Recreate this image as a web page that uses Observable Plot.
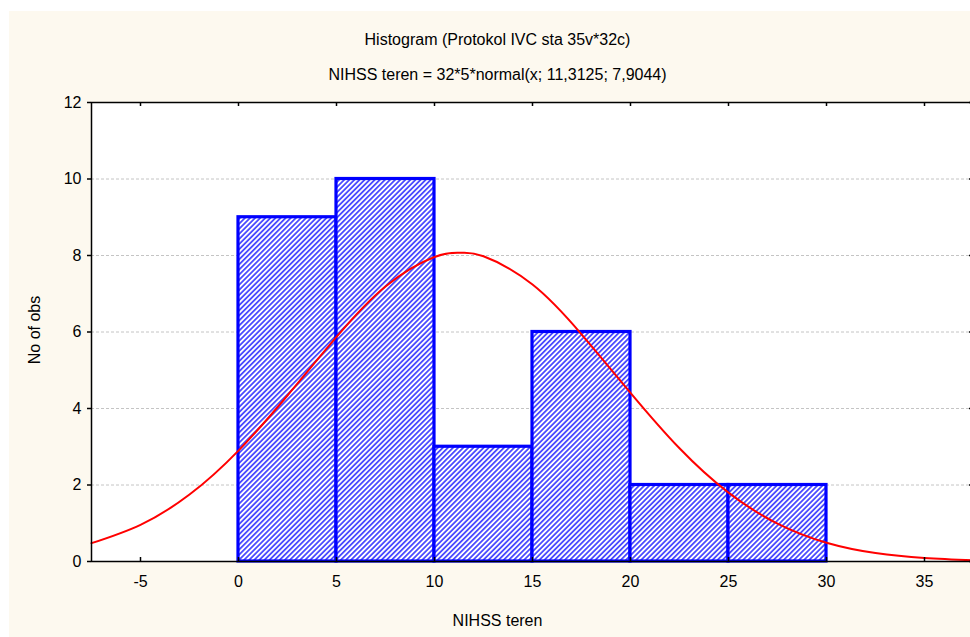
<!DOCTYPE html>
<html><head><meta charset="utf-8">
<script src="https://cdn.jsdelivr.net/npm/d3@7"></script>
<script src="https://cdn.jsdelivr.net/npm/@observablehq/plot@0.6"></script>
<style>
html,body{margin:0;padding:0;width:970px;height:637px;overflow:hidden;background:#fff;font-family:"Liberation Sans",Arial,sans-serif;}
#bg{position:absolute;left:9px;top:11px;right:0;bottom:0;background:#fdf9ef;}
.t{position:absolute;left:0;width:995px;text-align:center;font-size:16px;line-height:18px;color:#000;white-space:nowrap;}
#chart{position:absolute;left:0;top:90px;width:985px;}
#chart svg{max-width:none !important;}
#ylab{position:absolute;left:35px;top:330px;transform:translate(-50%,-50%) rotate(-90deg);font-size:16px;white-space:nowrap;}
</style></head>
<body>
<div id="bg"></div>
<div class="t" style="top:31px">Histogram (Protokol IVC sta 35v*32c)</div>
<div class="t" style="top:66px">NIHSS teren = 32*5*normal(x; 11,3125; 7,9044)</div>
<div class="t" style="top:612px">NIHSS teren</div>
<div id="ylab">No of obs</div>
<div id="chart"></div>
<script>
// Histogram bins (lower edge, upper edge, count)
const binLo = [0, 5, 10, 15, 20, 25];
const binHi = [5, 10, 15, 20, 25, 30];
const counts = [9, 10, 3, 6, 2, 2];

// Fitted normal curve
const curveX = [-7.5, -5, -2.5, 0, 2.5, 5, 7.5, 10, 11.3, 12.5, 15, 17.5, 20, 22.5, 25, 27.5, 30, 32.5, 35, 37.5];
const curveY = [0.48, 0.96, 1.75, 2.90, 4.34, 5.87, 7.19, 7.96, 8.07, 7.98, 7.24, 5.94, 4.41, 2.96, 1.80, 0.99, 0.49, 0.22, 0.09, 0.03];

const xTicks = [-5, 0, 5, 10, 15, 20, 25, 30, 35];
const yTicks = [0, 2, 4, 6, 8, 10, 12];
const gridY = [2, 4, 6, 8, 10];

const bins = binLo.map((lo, i) => ({lo, hi: binHi[i], n: counts[i]}));
const curve = curveX.map((x, i) => ({x, y: curveY[i]}));

const W = 985, H = 547, mL = 91, mR = 12, mT = 12, mB = 76;
const innerW = W - mL - mR, innerH = H - mT - mB;

const svg = Plot.plot({
  width: W, height: H,
  marginLeft: mL, marginRight: mR, marginTop: mT, marginBottom: mB,
  style: {background: "transparent", maxWidth: "none", fontFamily: "'Liberation Sans', Arial, sans-serif", fontSize: "16px", color: "#000"},
  x: {domain: [-7.5, 37.5]},
  y: {domain: [0, 12]},
  marks: [
    Plot.frame({fill: "white", stroke: null}),
    Plot.ruleY(gridY, {stroke: "#c4c4c4", strokeWidth: 1, strokeDasharray: "3,2"}),
    Plot.rectY(bins, {x1: "lo", x2: "hi", y: "n", fill: "url(#hatch)", stroke: "#0000ff", strokeWidth: 3.2}),
    Plot.line(curve, {x: "x", y: "y", stroke: "#ff0000", strokeWidth: 2, curve: "natural"}),
    Plot.frame({stroke: "#000", strokeWidth: 1.5}),
    Plot.tickX(xTicks, {x: d => d, insetTop: innerH - 4, stroke: "#000", strokeWidth: 1.5}),
    Plot.tickX(xTicks, {x: d => d, insetBottom: innerH - 4, stroke: "#000", strokeWidth: 1.5}),
    Plot.tickY(yTicks, {y: d => d, insetLeft: innerW - 4, stroke: "#000", strokeWidth: 1.5}),
    Plot.axisX({ticks: xTicks, tickSize: 0, tickPadding: 14, label: null, fontSize: 16, tickFormat: d => String(d)}),
    Plot.axisY({ticks: yTicks, tickSize: 4, tickPadding: 6, label: null, fontSize: 16, strokeWidth: 1.5, tickFormat: d => String(d)})
  ]
});

// hatch pattern definition
const ns = "http://www.w3.org/2000/svg";
const defs = document.createElementNS(ns, "defs");
defs.innerHTML = `<pattern id="hatch" patternUnits="userSpaceOnUse" width="3.6" height="3.6" patternTransform="rotate(45)">
  <rect width="3.6" height="3.6" fill="#ffffff"></rect>
  <line x1="0.9" y1="0" x2="0.9" y2="3.6" stroke="#3535ff" stroke-width="1.6"></line>
</pattern>`;
svg.insertBefore(defs, svg.firstChild);
document.getElementById("chart").appendChild(svg);
</script>
</body></html>
